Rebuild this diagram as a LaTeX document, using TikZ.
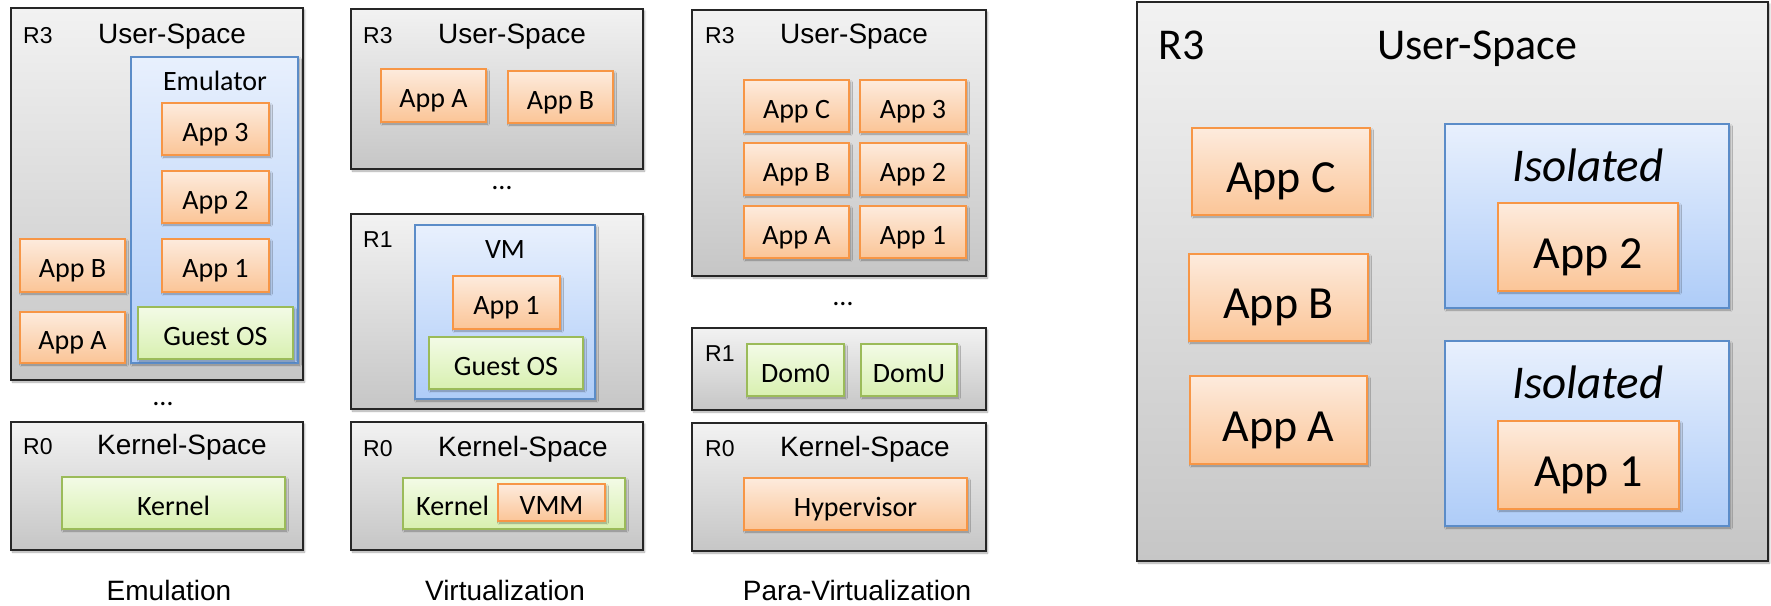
\documentclass[tikz,border=0pt]{standalone}
\usepackage{fontspec}
\setmainfont{Carlito}
\newfontfamily\arialf{Liberation Sans}
\usetikzlibrary{shadows.blur}
\definecolor{orB}{HTML}{F79646}
\definecolor{orT}{HTML}{FDEBDD}
\definecolor{orBot}{HTML}{FBC597}
\definecolor{grB}{HTML}{9BBB59}
\definecolor{grT}{HTML}{F3FBE6}
\definecolor{grBot}{HTML}{D8F0B0}
\definecolor{blB}{HTML}{5B8CC8}
\definecolor{blT}{HTML}{E8F0FD}
\definecolor{blBot}{HTML}{AECCF8}
\definecolor{gyT}{HTML}{F2F2F2}
\definecolor{gyBot}{HTML}{C6C6C6}
\tikzset{
  base/.style={rectangle, inner sep=0pt, outer sep=0pt,
    blur shadow={shadow blur steps=6, shadow xshift=1.5pt, shadow yshift=-2pt, shadow opacity=35}},
  ring/.style={base, draw=black!85, line width=1.4pt, top color=gyT, bottom color=gyBot},
  app/.style={base, draw=orB, line width=1.4pt, top color=orT, bottom color=orBot,
    font=\fontsize{28}{30}\selectfont, text height=24pt, text depth=0pt},
  appL/.style={app, line width=1.8pt, font=\fontsize{46}{48}\selectfont, text height=42pt},
  green/.style={base, draw=grB, line width=1.4pt, top color=grT, bottom color=grBot,
    font=\fontsize{28}{30}\selectfont, text height=24pt, text depth=0pt},
  blue/.style={base, draw=blB, line width=1.4pt, top color=blT, bottom color=blBot},
  blueL/.style={blue, line width=1.8pt},
  lab/.style={inner sep=0pt, anchor=base, font=\arialf\fontsize{28}{30}\selectfont},
  rlab/.style={inner sep=0pt, anchor=base west, font=\arialf\fontsize{23}{25}\selectfont},
  clab/.style={inner sep=0pt, anchor=base, font=\fontsize{28}{30}\selectfont},
  bigr/.style={inner sep=0pt, anchor=base west, font=\fontsize{44}{46}\selectfont},
  bigl/.style={inner sep=0pt, anchor=base, font=\fontsize{44}{46}\selectfont},
  isol/.style={inner sep=0pt, anchor=base, font=\itshape\fontsize{47}{49}\selectfont},
}
\newcommand\bx[7]{\node[#1, minimum width={(#5)-(#3)}, minimum height={(#6)-(#4)}, anchor=north west] (#2) at (#3,#4) {#7};}
\begin{document}
\begin{tikzpicture}[x=1pt,y=-1pt]
\useasboundingbox (0,0) rectangle (1771,605);
% ---------------- Emulation
\bx{ring}{emuU}{11}{8}{303}{380}{}
\node[rlab] (emuR3) at (23,43) {R3};
\node[lab] (emuUS) at (172,43) {User-Space};
\bx{blue}{emuEmu}{131}{57}{298}{363}{}
\node[clab] (emuEmT) at (215,90) {Emulator};
\bx{app}{emuA3}{162}{103}{269}{155}{App 3}
\bx{app}{emuA2}{162}{171}{269}{223}{App 2}
\bx{app}{emuA1}{162}{239}{269}{292}{App 1}
\bx{green}{emuGOS}{138}{307}{293}{359}{Guest OS}
\bx{app}{emuAB}{20}{239}{125}{292}{App B}
\bx{app}{emuAA}{20}{312}{125}{363}{App A}
\node[clab] (emuDots) at (163,405) {…};
\bx{ring}{emuK}{11}{422}{303}{550}{}
\node[rlab] (emuR0) at (23,454) {R0};
\node[lab] (emuKS) at (182,454) {Kernel-Space};
\bx{green}{emuKer}{62}{477}{285}{529}{Kernel}
\node[lab] (emuCap) at (169,600) {Emulation};
% ---------------- Virtualization
\bx{ring}{virU}{351}{9}{643}{169}{}
\node[rlab] (virR3) at (363,43) {R3};
\node[lab] (virUS) at (512,43) {User-Space};
\bx{app}{virAA}{381}{69}{486}{122}{App A}
\bx{app}{virAB}{508}{71}{613}{123}{App B}
\node[clab] (virDots) at (502,189) {…};
\bx{ring}{virR1}{351}{214}{643}{409}{}
\node[rlab] (virR1t) at (363,247) {R1};
\bx{blue}{virVM}{415}{225}{595}{399}{}
\node[clab] (virVMt) at (505,258) {VM};
\bx{app}{virA1}{453}{276}{560}{329}{App 1}
\bx{green}{virGOS}{429}{337}{583}{389}{Guest OS}
\bx{ring}{virK}{351}{422}{643}{550}{}
\node[rlab] (virR0) at (363,456) {R0};
\node[lab] (virKS) at (523,456) {Kernel-Space};
\bx{green}{virKer}{403}{478}{625}{529}{}
\node[clab, anchor=base west] (virKerT) at (416,515) {Kernel};
\bx{app}{virVMM}{498}{484}{605}{521}{VMM}
\node[lab] (virCap) at (505,600) {Virtualization};
% ---------------- Para-Virtualization
\bx{ring}{parU}{692}{10}{986}{276}{}
\node[rlab] (parR3) at (705,43) {R3};
\node[lab] (parUS) at (854,43) {User-Space};
\bx{app}{parAC}{744}{80}{849}{132}{App C}
\bx{app}{parA3}{860}{80}{966}{132}{App 3}
\bx{app}{parAB}{744}{143}{849}{195}{App B}
\bx{app}{parA2}{860}{143}{966}{195}{App 2}
\bx{app}{parAA}{744}{206}{849}{258}{App A}
\bx{app}{parA1}{860}{206}{966}{258}{App 1}
\node[clab] (parDots) at (843,305) {…};
\bx{ring}{parR1}{692}{328}{986}{410}{}
\node[rlab] (parR1t) at (705,361) {R1};
\bx{green}{parD0}{747}{344}{844}{396}{Dom0}
\bx{green}{parDU}{861}{344}{957}{396}{DomU}
\bx{ring}{parK}{692}{423}{986}{551}{}
\node[rlab] (parR0) at (705,456) {R0};
\node[lab] (parKS) at (865,456) {Kernel-Space};
\bx{app}{parHyp}{744}{478}{967}{530}{Hypervisor}
\node[lab] (parCap) at (857,600) {Para-Virtualization};
% ---------------- Isolated user space
\bx{ring}{isoU}{1137}{2}{1768}{561}{}
\node[bigr] (isoR3) at (1158,59) {R3};
\node[bigl] (isoUS) at (1477,59) {User-Space};
\bx{appL}{isoAC}{1192}{128}{1370}{215}{App C}
\bx{appL}{isoAB}{1189}{254}{1368}{341}{App B}
\bx{appL}{isoAA}{1190}{376}{1367}{464}{App A}
\bx{blueL}{isoB1}{1445}{124}{1729}{308}{}
\node[isol] (isoT1) at (1588,181) {Isolated};
\bx{appL}{isoA2}{1498}{203}{1678}{291}{App 2}
\bx{blueL}{isoB2}{1445}{341}{1729}{526}{}
\node[isol] (isoT2) at (1588,398) {Isolated};
\bx{appL}{isoA1}{1498}{421}{1679}{509}{App 1}
\end{tikzpicture}
\end{document}
